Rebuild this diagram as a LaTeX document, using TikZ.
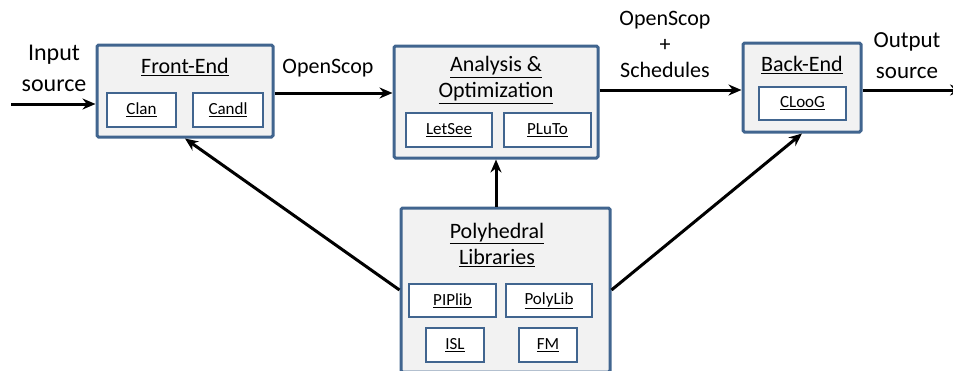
\documentclass[tikz,border=0pt]{standalone}
\usepackage{fontspec}
\setmainfont{Carlito}
\usepackage{xcolor}
\usetikzlibrary{arrows.meta,calc,positioning}

\definecolor{boxblue}{HTML}{41658F}
\definecolor{boxgray}{HTML}{F2F2F2}

\begin{document}
\begin{tikzpicture}[x=1pt,y=-1pt,
                    >={Stealth[length=13pt,width=11pt]},
                    stage node/.style={rectangle,draw=boxblue,fill=boxgray,line width=3pt,rounded corners=1.5pt},
                    tool node/.style={rectangle,draw=boxblue,fill=white,line width=2pt,minimum height=34pt,font=\fontsize{17}{20}\selectfont},
                    title node/.style={align=center,inner sep=0pt,font=\fontsize{22}{26}\selectfont},
                    flow/.style={line width=3pt,->}]

  \useasboundingbox (0,0) rectangle (953,370);
  \clip (0,0) rectangle (953,370);

  % the four stages
  \node[stage node,minimum width=176pt,minimum height=92pt] (front) at (185,91) {};
  \node[stage node,minimum width=204pt,minimum height=112pt] (ana) at (496,102) {};
  \node[stage node,minimum width=118pt,minimum height=89pt] (back) at (802,87.5) {};
  \node[stage node,minimum width=209pt,minimum height=164pt] (poly) at (505.5,290) {};

  % titles
  \node[title node] (frontT) at (185,67) {\underline{Front-End}};
  \node[title node] (anaT) at (496,80) {\underline{Analysis \&}\\\underline{Optimization}};
  \node[title node] (backT) at (802,65) {\underline{Back-End}};
  \node[title node] (polyT) at (497,245) {\underline{Polyhedral}\\\underline{Libraries}};

  % tools inside the stages
  \node[tool node,minimum width=69pt] (clan) at (141.5,110) {\underline{Clan}};
  \node[tool node,minimum width=70pt] (candl) at (228,110) {\underline{Candl}};
  \node[tool node,minimum width=86pt] (letsee) at (449,130) {\underline{LetSee}};
  \node[tool node,minimum width=87pt] (pluto) at (547.5,130) {\underline{PLuTo}};
  \node[tool node,minimum width=87pt,minimum height=33pt] (cloog) at (802.5,103.5) {\underline{CLooG}};
  \node[tool node,minimum width=87pt,minimum height=33pt] (piplib) at (452.5,300.5) {\underline{PIPlib}};
  \node[tool node,minimum width=86pt,minimum height=33pt] (polylib) at (549,300.5) {\underline{PolyLib}};
  \node[tool node,minimum width=58pt] (isl) at (455,345) {\underline{ISL}};
  \node[tool node,minimum width=58pt] (fm) at (548,345) {\underline{FM}};

  % labels
  \node[title node,font=\fontsize{24}{31}\selectfont] (inL) at (54,68) {Input\\source};
  \node[title node] (osL) at (328,68) {OpenScop};
  \node[title node] (schL) at (665,44) {OpenScop\\+\\Schedules};
  \node[title node,font=\fontsize{23}{31}\selectfont] (outL) at (907,56) {Output\\source};

  \coordinate (in) at (11,104);
  \coordinate (out) at (963,90);

  \path[flow]
  (in) edge (in -| front.west)
  (front.east |- 0,93) edge (ana.west |- 0,93)
  (ana.east |- 0,90) edge (back.west |- 0,90)
  (back.east |- 0,90) edge (out);

  \path[flow]
  (poly.north -| ana.south) edge (ana.south)
  (poly.west) edge (front.south)
  (poly.east) edge (back.south);

\end{tikzpicture}
\end{document}
